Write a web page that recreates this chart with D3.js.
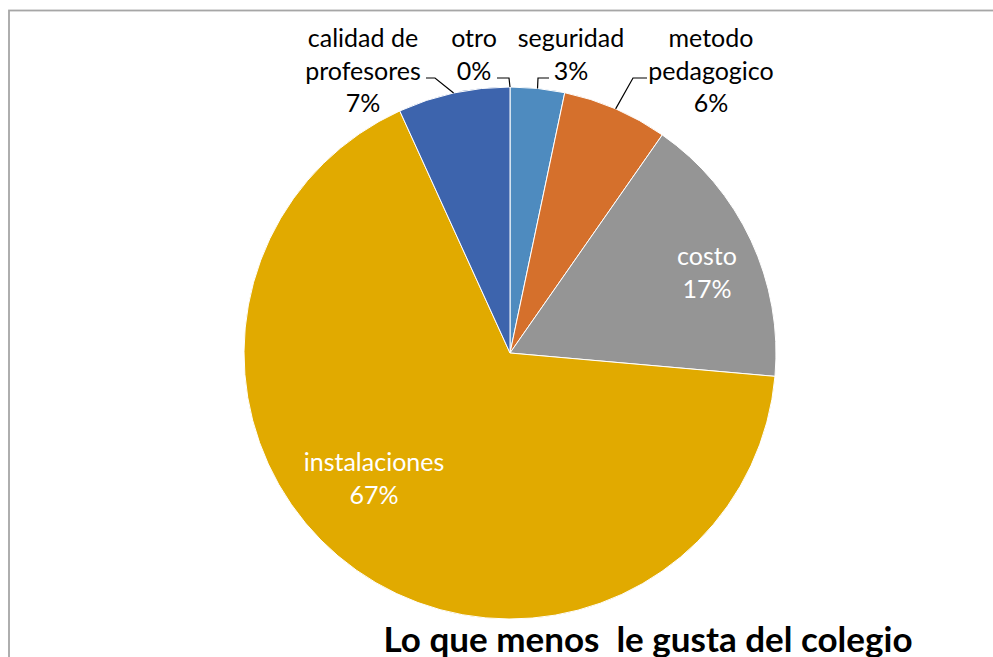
<!DOCTYPE html>
<html>
<head>
<meta charset="utf-8">
<script src="https://cdn.jsdelivr.net/npm/d3@7"></script>
<style>
  html, body { margin: 0; padding: 0; background: #fff; overflow: hidden; }
  svg { display: block; }
  text { font-family: Lato, "Open Sans", sans-serif; }
</style>
</head>
<body>
<svg width="993" height="657"></svg>
<script>
// data, clockwise from 12 o'clock
const categories = ["seguridad", "metodo pedagogico", "costo", "instalaciones", "calidad de profesores", "otro"];
const values = [3.3, 6.4, 16.7, 66.8, 6.8, 0];
const colors = ["#4e8bbf", "#d5702c", "#959595", "#e1aa00", "#3d64ad", "#6f9bd0"];

// label layout (lines, anchor position, optional elbow for leader line)
const labelLines = [["seguridad", "3%"], ["metodo", "pedagogico", "6%"], ["costo", "17%"],
  ["instalaciones", "67%"], ["calidad de", "profesores", "7%"], ["otro", "0%"]];
const labelPos = [[571, 47], [711, 47], [707, 265], [374, 471], [363, 47], [474, 47]];
const labelInside = [false, false, true, true, false, false];
const leaderElbow = [[538, 78, 549], [633, 78, 647], null, null, [435, 78, 426], [509, 78, 497]];

const svg = d3.select("svg");
const cx = 510, cy = 353, r = 266;

// chart area border (runs off the right and bottom)
svg.append("rect")
  .attr("x", 9).attr("y", 10.5)
  .attr("width", 1100).attr("height", 800)
  .attr("fill", "none")
  .attr("stroke", "#a6a6a6")
  .attr("stroke-width", 1.8);

const data = categories.map((c, i) => ({ name: c, value: values[i], i: i }));

const pie = d3.pie().sort(null).value(d => d.value);
const arc = d3.arc().innerRadius(0).outerRadius(r);
const arcs = pie(data);

const g = svg.append("g").attr("transform", `translate(${cx},${cy})`);

g.selectAll("path")
  .data(arcs)
  .join("path")
  .attr("d", arc)
  .attr("fill", d => colors[d.data.i])
  .attr("stroke", "#fff")
  .attr("stroke-width", d => d.value > 0 ? 1 : 0);

// leader lines from slice edge to the label
arcs.forEach(d => {
  const e = leaderElbow[d.data.i];
  if (!e) return;
  const a = (d.startAngle + d.endAngle) / 2;
  const px = cx + r * Math.sin(a);
  const py = cy - r * Math.cos(a);
  svg.append("polyline")
    .attr("points", `${px},${py} ${e[0]},${e[1]} ${e[2]},${e[1]}`)
    .attr("fill", "none")
    .attr("stroke", "#000")
    .attr("stroke-width", 1.2);
});

// labels
data.forEach(d => {
  const p = labelPos[d.i];
  const t = svg.append("text")
    .attr("x", p[0]).attr("y", p[1])
    .attr("text-anchor", "middle")
    .attr("font-size", 25)
    .attr("fill", labelInside[d.i] ? "#fff" : "#000");
  labelLines[d.i].forEach((line, k) => {
    t.append("tspan")
      .attr("x", p[0])
      .attr("dy", k === 0 ? 0 : 32.5)
      .text(line);
  });
});

// title
svg.append("text")
  .attr("x", 648).attr("y", 652)
  .attr("text-anchor", "middle")
  .attr("font-size", 35)
  .attr("font-weight", "bold")
  .attr("fill", "#000")
  .text("Lo que menos  le gusta del colegio")
  .style("white-space", "pre");
</script>
</body>
</html>
